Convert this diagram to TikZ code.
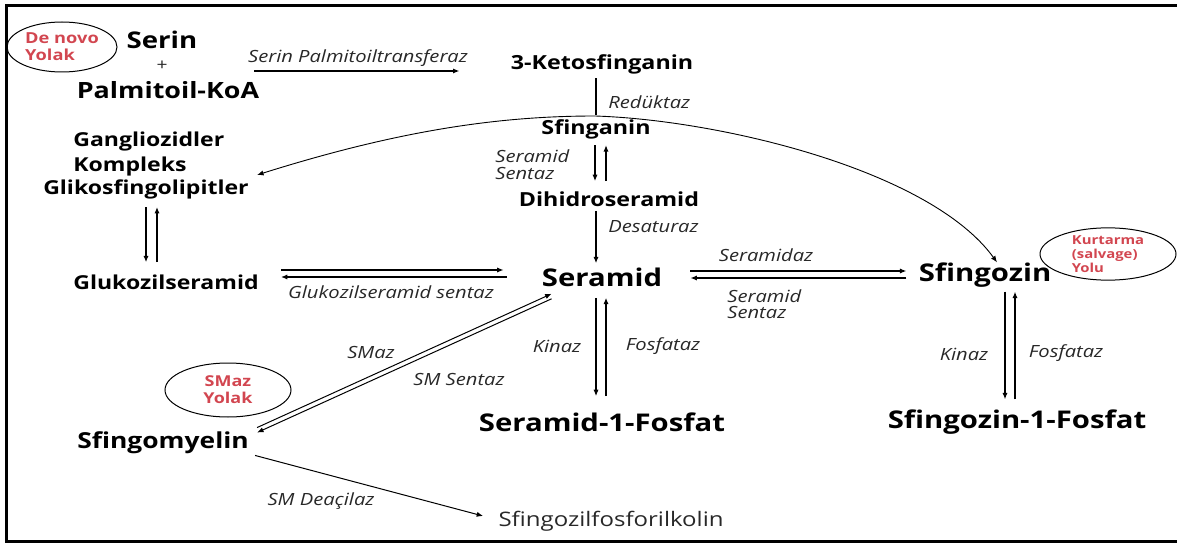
\documentclass[tikz,border=0pt]{standalone}
\usepackage{fontspec}
\newfontfamily\osans{Open Sans}[FakeStretch=1.2]
\usetikzlibrary{arrows.meta,calc,shapes.geometric}
\definecolor{yolred}{RGB}{210,70,80}
\definecolor{enzgray}{RGB}{40,40,40}

\begin{document}
\begin{tikzpicture}[x=0.5pt,y=-0.5pt,
  every node/.style={inner sep=2pt, font=\osans},
  big/.style={font=\osans\bfseries\fontsize{12.2}{14}\selectfont},
  mid/.style={font=\osans\bfseries\fontsize{9.7}{12}\selectfont},
  sml/.style={font=\osans\bfseries\fontsize{9.6}{12}\selectfont},
  enz/.style={font=\osans\itshape\fontsize{8.4}{8.6}\selectfont, text=enzgray, align=left},
  yolak/.style={draw, ellipse, inner sep=0pt, line width=0.5pt, text=yolred, align=left},
  arr/.style={-{Latex[length=3.2pt,width=2.6pt]}, line width=0.6pt}]

 \useasboundingbox (0,0) rectangle (1177,545);
 \draw[line width=1.5pt] (6,6) rectangle (1195,541);

 % de novo
 \node[yolak, minimum width=55pt, minimum height=25pt, font=\osans\bfseries\fontsize{7.6}{8.5}\selectfont] (denovo) at (62,47) {De novo\\Yolak};
 \node[font=\osans\bfseries\fontsize{11.5}{13}\selectfont] (serin) at (162,40) {Serin};
 \node[font=\osans\fontsize{8}{9}\selectfont, text=enzgray] (plus) at (162,66) {+};
 \node[font=\osans\bfseries\fontsize{11.2}{13}\selectfont] (palmitoil) at (168,90) {Palmitoil-KoA};
 \node[enz] (spt) at (358,58) {Serin Palmitoiltransferaz};

 \node[mid] (ketos) at (602,64) {3-Ketosfinganin};
 \node[enz, anchor=west] (reduktaz) at (604,102) {Redüktaz};
 \node[mid] (sfinganin) at (596,129) {Sfinganin};
 \node[enz, anchor=west] (sersentA) at (491,164.5) {Seramid\\Sentaz};
 \node[mid] (dihidro) at (609,199) {Dihidroseramid};
 \node[enz, anchor=west] (desaturaz) at (604,227) {Desaturaz};

 \node[sml, anchor=west] (gang) at (69,142) {Gangliozidler};
 \node[sml, anchor=west] (kompleks) at (69,167) {Kompleks};
 \node[sml] (glyco) at (146,189) {Glikosfingolipitler};
 \node[sml] (glukozil) at (166,282) {Glukozilseramid};

 \node[big] (seramid) at (602,277) {Seramid};
 \node[enz] (glsentaz) at (391,292) {Glukozilseramid sentaz};
 \node[enz] (seramidaz) at (766,255) {Seramidaz};
 \node[enz, anchor=west, font=\osans\itshape\fontsize{8.4}{8}\selectfont] (sersentB) at (723,304.5) {Seramid\\Sentaz};
 \node[big] (sfingozin) at (985,275) {Sfingozin};
 \node[yolak, minimum width=68pt, minimum height=26pt, font=\osans\bfseries\fontsize{6.2}{7}\selectfont] (kurtarma) at (1108,254) {Kurtarma\\(salvage)\\Yolu};

 \node[enz] (kinazA) at (557,346) {Kinaz};
 \node[enz] (fosfatazA) at (663,346) {Fosfataz};
 \node[enz] (kinazB) at (964,354) {Kinaz};
 \node[enz] (fosfatazB) at (1066,353) {Fosfataz};
 \node[big] (seramidf) at (602,422) {Seramid-1-Fosfat};
 \node[big] (sfingozinf) at (1017,422) {Sfingozin-1-Fosfat};

 % SMaz
 \node[enz] (smaz) at (371,352) {SMaz};
 \node[enz] (smsentaz) at (459,379) {SM Sentaz};
 \node[yolak, align=center, minimum width=63pt, minimum height=27pt, font=\osans\bfseries\fontsize{7.5}{8.5}\selectfont] (smazyolak) at (228,390) {SMaz\\Yolak};
 \node[font=\osans\bfseries\fontsize{11}{13}\selectfont] (sfingomyelin) at (163,443) {Sfingomyelin};
 \node[enz] (smdeacilaz) at (321,501) {SM Deaçilaz};
 \node[font=\osans\fontsize{10}{12}\selectfont, text=enzgray] (sfkolin) at (611,521) {Sfingozilfosforilkolin};

 % connectors
 \coordinate (sptstart) at (254,71);
 \draw[arr, shorten >=23.5pt] (sptstart) -- ($(ketos.west)+(0pt,-3.5pt)$);
 \draw[line width=0.6pt] (sfinganin.north |- ketos.south) -- (sfinganin.north);
 \draw[arr] ($(sfinganin.south)+(-0.5pt,-1pt)$) -- ($(sfinganin.south |- dihidro.north)+(-0.5pt,3pt)$);
 \draw[arr] ($(sfinganin.south |- dihidro.north)+(5pt,3pt)$) -- ($(sfinganin.south)+(5pt,-1pt)$);
 \draw[arr] ($(dihidro.south -| seramid.north)+(-3pt,0pt)$) -- ($(seramid.north)+(-3pt,0pt)$);

 \draw[arr] ($(glyco.south)+(0pt,-2pt)$) -- ($(glyco.south |- glukozil.north)+(0pt,4pt)$);
 \draw[arr] ($(glyco.south |- glukozil.north)+(5.5pt,4pt)$) -- ($(glyco.south)+(5.5pt,-2pt)$);
 \draw[arr] ($(glukozil.east)+(9pt,6pt)$) -- ($(glukozil.east -| seramid.west)+(-17pt,6pt)$);
 \draw[arr] ($(glukozil.east -| seramid.west)+(-15.5pt,2.5pt)$) -- ($(glukozil.east)+(9pt,2.5pt)$);

 \draw[arr] ($(seramid.east)+(12pt,3pt)$) -- ($(seramid.east -| sfingozin.west)+(-4pt,3pt)$);
 \draw[arr] ($(seramid.east -| sfingozin.west)+(-4pt,-0.5pt)$) -- ($(seramid.east)+(12pt,-0.5pt)$);

 \draw[arr] ($(seramid.south)+(-3pt,-3.5pt)$) -- ($(seramid.south |- seramidf.north)+(-3pt,6pt)$);
 \draw[arr] ($(seramid.south |- seramidf.north)+(2pt,6pt)$) -- ($(seramid.south)+(2pt,-3.5pt)$);
 \draw[arr] ($(sfingozin.south)+(10pt,0pt)$) -- ($(sfingozin.south |- sfingozinf.north)+(10pt,3pt)$);
 \draw[arr] ($(sfingozin.south |- sfingozinf.north)+(15pt,3pt)$) -- ($(sfingozin.south)+(15pt,0pt)$);

 \draw[arr, line width=0.5pt] ($(sfingomyelin.north east)+(2pt,0pt)$) -- ($(seramid.south west)+(7pt,-1.5pt)$);
 \draw[arr, line width=0.5pt] ($(seramid.south west)+(7pt,-4pt)$) -- ($(sfingomyelin.north east)+(2pt,-2.5pt)$);
 \draw[arr, line width=0.5pt] ($(sfingomyelin.south east)+(1pt,1.5pt)$) -- ($(sfkolin.west)+(-5.5pt,2.5pt)$);

 % salvage curve
 \draw[{Latex[length=3.2pt,width=2.6pt]}-{Latex[length=3.2pt,width=2.6pt]}, line width=0.45pt]
   ($(glyco.north east)+(2pt,0pt)$) .. controls (400,130) and (500,116) .. (595,116)
   .. controls (720,120) and (930,170) .. ($(sfingozin.north)+(6pt,-2pt)$);

\end{tikzpicture}
\end{document}
